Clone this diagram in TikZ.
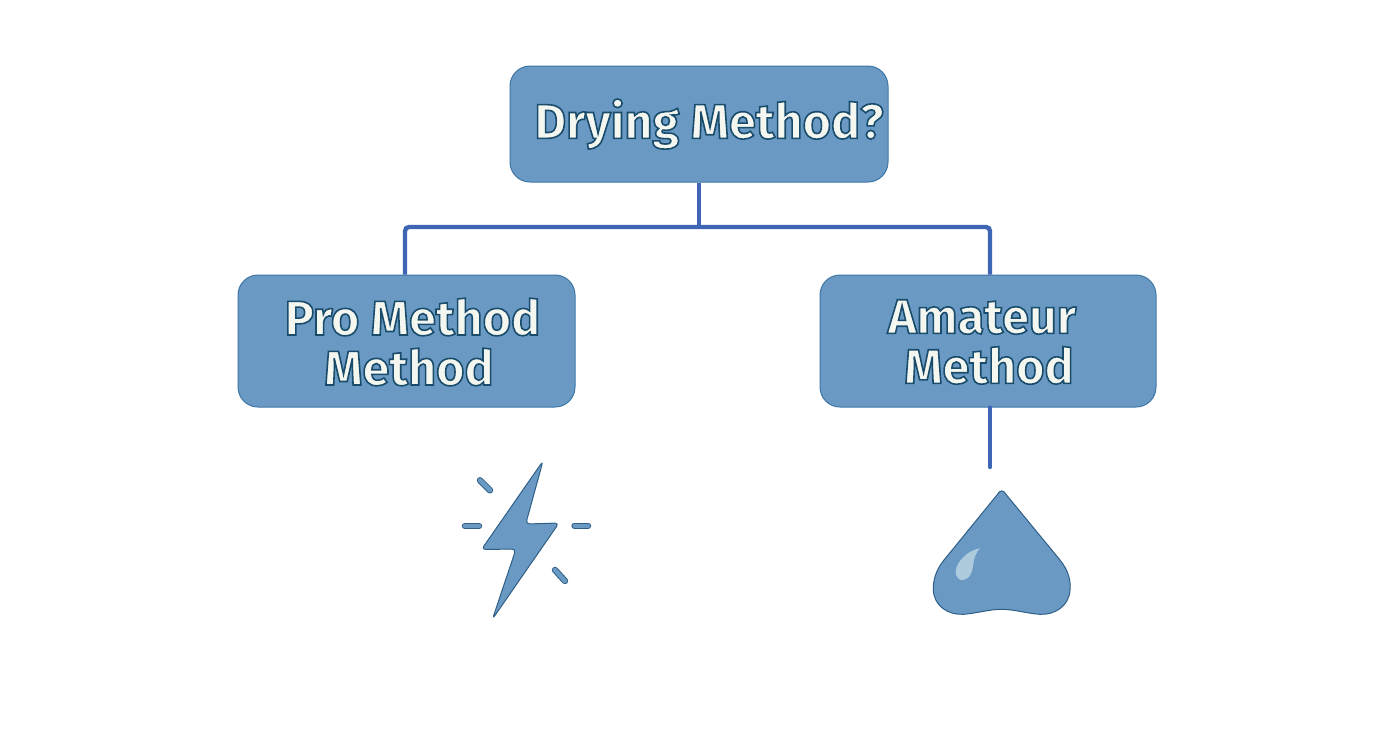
\documentclass[tikz,border=0pt]{standalone}
\usepackage{fontspec}
\setmainfont{Fira Sans}
\definecolor{boxfill}{HTML}{6A9AC4}
\definecolor{boxline}{HTML}{3E76A6}
\definecolor{conn}{HTML}{3F66B4}
\definecolor{inkline}{HTML}{2F5F86}
\definecolor{shine}{HTML}{AECBDD}
\definecolor{txt}{HTML}{F4F6F0}
\newcommand{\outl}[1]{\special{pdf:code 2 Tr 0.8 w 0.10 0.30 0.42 RG}#1\special{pdf:code 0 Tr}}
\tikzset{
  box/.style={draw=boxline,fill=boxfill,line width=0.5pt,rounded corners=10pt,inner sep=0pt},
  lab/.style={inner sep=0pt,align=center,text=txt,font=\fontsize{24.3}{25}\bfseries\selectfont},
  wire/.style={draw=conn,line width=2.2pt},
  icon/.style={draw=inkline,fill=boxfill,line width=0.5pt,line join=round},
  ray/.style={draw=inkline,double=boxfill,double distance=2.2pt,line width=0.5pt,line cap=round}
}
\begin{document}
\begin{tikzpicture}[x=0.5pt,y=-0.5pt]
\useasboundingbox (0,0) rectangle (1392,752);
\fill[white] (0,0) rectangle (1392,752);
\node[box,minimum width=189pt,minimum height=58pt] (top) at (699,124) {};
\node[box,minimum width=168.5pt,minimum height=66pt] (left) at (406.5,341) {};
\node[box,minimum width=168pt,minimum height=66pt] (right) at (988,341) {};
\coordinate (bus) at (699,227);
\coordinate (lj) at ([xshift=-0.75pt]left.north);
\coordinate (rj) at ([xshift=1pt]right.north);
\coordinate (rend) at (990,467);
\draw[wire] (top.south) -- (bus);
\draw[wire,rounded corners=2pt] (lj) |- (bus) -| (rj);
\draw[wire,line cap=round] (rj |- right.south) -- (rend);
\node[lab] (ltop) at (709,124) {\outl{Drying Method?}};
\node[lab] (lleft) at (412.5,342) {\outl{Pro Method}\\\hspace*{-3.5pt}\outl{Method}};
\node[lab] (lright) at (982,342) {\outl{Amateur}\\\hspace*{7pt}\outl{Method}};
\draw[icon,rounded corners=2pt] (543,461) -- (525.7,524) -- (559,523) -- (492.5,619) -- (516,549) -- (481.5,549.5) -- cycle;
\draw[ray] (480,480.3) -- (490,490.3);
\draw[ray] (465,526) -- (479,526);
\draw[ray] (574.5,525.7) -- (588,525.7);
\draw[ray] (555,570) -- (565,581);
\draw[icon] (997,495) .. controls (1000,489.5) and (1003.5,489.5) .. (1006.5,495)
  -- (1060,560) .. controls (1068,570) and (1071,580) .. (1070,590)
  .. controls (1069,606) and (1055,615) .. (1040,614.3)
  .. controls (1027,613.5) and (1014,609.3) .. (1001.7,609.3)
  .. controls (989,609.3) and (976,613.5) .. (963.3,614.3)
  .. controls (948,615) and (934,606) .. (933.3,590)
  .. controls (933,580) and (936,570) .. (944,560) -- cycle;
\fill[shine] (980,548.3) .. controls (968,550) and (956,562) .. (955.7,571.7)
  .. controls (955.7,578) and (960,580.5) .. (963,580)
  .. controls (969,579) and (972,574) .. (973,566)
  .. controls (974,558) and (976,552) .. (980,548.3) -- cycle;
\end{tikzpicture}
\end{document}
